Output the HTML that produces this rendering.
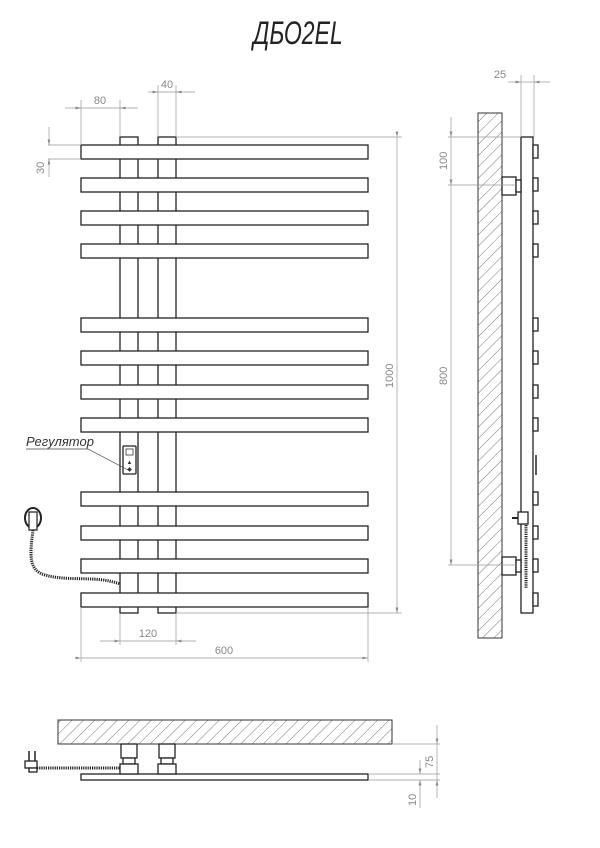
<!DOCTYPE html>
<html><head><meta charset="utf-8"><style>
html,body{margin:0;padding:0;background:#fff;}
svg{display:block;}
.k{fill:#fff;stroke:#222;stroke-width:1.3;}
.d{stroke:#999;stroke-width:0.7;fill:none;}
.t{font-family:"Liberation Sans",sans-serif;fill:#888;font-size:11px;}
</style></head><body>
<svg width="600" height="848" viewBox="0 0 600 848" xmlns="http://www.w3.org/2000/svg">
<defs>
<pattern id="h" width="8" height="8" patternUnits="userSpaceOnUse" patternTransform="rotate(45)">
<line x1="0" y1="0" x2="0" y2="8" stroke="#555" stroke-width="0.8"/></pattern>
<marker id="a" markerWidth="8" markerHeight="4" refX="8" refY="2" orient="auto"><path d="M0,0 L8,2 L0,4z" fill="#888"/></marker>
</defs>
<text x="298" y="44" text-anchor="middle" transform="translate(298 0) scale(0.72 1) translate(-298 0)" font-family="Liberation Sans,sans-serif" font-style="italic" font-size="32" fill="#222" style="transform-box:view-box">ДБО2EL</text>

<!-- front view posts -->
<rect class="k" x="120" y="137" width="18" height="476"/>
<rect class="k" x="158" y="137" width="18" height="476"/>
<line x1="138" y1="137" x2="158" y2="137" stroke="none"/>
<!-- bars -->
<g class="k">
<rect x="81" y="145" width="287" height="14"/><rect x="81" y="178" width="287" height="14"/>
<rect x="81" y="211" width="287" height="14"/><rect x="81" y="244" width="287" height="14"/>
<rect x="81" y="318" width="287" height="14"/><rect x="81" y="351" width="287" height="14"/>
<rect x="81" y="385" width="287" height="14"/><rect x="81" y="418" width="287" height="14"/>
<rect x="81" y="492" width="287" height="14"/><rect x="81" y="526" width="287" height="14"/>
<rect x="81" y="559" width="287" height="14"/><rect x="81" y="593" width="287" height="14"/>
</g>
<!-- regulator -->
<rect class="k" x="123" y="446" width="13" height="28" rx="1"/>
<rect x="126" y="449" width="7" height="6" fill="none" stroke="#333" stroke-width="0.8"/>
<text x="129.5" y="464" font-size="6" text-anchor="middle" fill="#333">▲</text>
<text x="129.5" y="471" font-size="6" text-anchor="middle" fill="#333">◆</text>
<text x="26" y="446" font-family="Liberation Sans,sans-serif" font-style="italic" font-size="13" fill="#333">Регулятор</text>
<polyline points="26,449 88,449 128,470" fill="none" stroke="#444" stroke-width="0.7"/>
<!-- plug and cord -->
<ellipse cx="33" cy="518" rx="8" ry="10" fill="#fff" stroke="#222" stroke-width="2"/>
<path d="M29,512 h8 v18 h-8z" fill="#fff" stroke="#222" stroke-width="1.2"/>
<path d="M33,530 C30,555 28,570 45,575 C70,582 95,575 120,584" fill="none" stroke="#222" stroke-width="3" stroke-dasharray="1.2 1"/>

<!-- front dims -->
<g class="d">
<line x1="81" y1="100" x2="81" y2="145"/><line x1="120" y1="100" x2="120" y2="137"/>
<line x1="65" y1="108" x2="81" y2="108" marker-end="url(#a)"/><line x1="81" y1="108" x2="120" y2="108"/><line x1="138" y1="108" x2="120" y2="108" marker-end="url(#a)"/>
<line x1="158" y1="85" x2="158" y2="137"/><line x1="176" y1="85" x2="176" y2="137"/>
<line x1="148" y1="92" x2="158" y2="92" marker-end="url(#a)"/><line x1="158" y1="92" x2="176" y2="92"/><line x1="195" y1="92" x2="176" y2="92" marker-end="url(#a)"/>
<line x1="48" y1="145" x2="81" y2="145"/><line x1="48" y1="159" x2="81" y2="159"/>
<line x1="49" y1="127" x2="49" y2="145" marker-end="url(#a)"/><line x1="49" y1="177" x2="49" y2="159" marker-end="url(#a)"/>
<line x1="176" y1="137" x2="402" y2="137"/><line x1="176" y1="613" x2="402" y2="613"/>
<line x1="397" y1="137" x2="397" y2="613" marker-start="url(#a)" marker-end="url(#a)"/>
<line x1="81" y1="607" x2="81" y2="662"/><line x1="368" y1="607" x2="368" y2="662"/>
<line x1="81" y1="658" x2="368" y2="658" marker-start="url(#a)" marker-end="url(#a)"/>
<line x1="120" y1="613" x2="120" y2="645"/><line x1="176" y1="613" x2="176" y2="645"/>
<line x1="100" y1="641" x2="120" y2="641" marker-end="url(#a)"/><line x1="120" y1="641" x2="176" y2="641"/><line x1="196" y1="641" x2="176" y2="641" marker-end="url(#a)"/>
</g>
<text class="t" x="100" y="104" text-anchor="middle">80</text>
<text class="t" x="167" y="88" text-anchor="middle">40</text>
<text class="t" transform="translate(44 174) rotate(-90)">30</text>
<text class="t" transform="translate(393 388) rotate(-90)">1000</text>
<text class="t" x="224" y="654" text-anchor="middle">600</text>
<text class="t" x="148" y="637" text-anchor="middle">120</text>

<!-- side view -->
<rect x="478" y="113" width="24" height="525" fill="url(#h)" stroke="#333" stroke-width="1"/>
<rect class="k" x="521" y="137" width="12" height="476"/>
<g class="k">
<rect x="533" y="145" width="5" height="13"/><rect x="533" y="178" width="5" height="13"/>
<rect x="533" y="211" width="5" height="13"/><rect x="533" y="244" width="5" height="13"/>
<rect x="533" y="318" width="5" height="13"/><rect x="533" y="351" width="5" height="13"/>
<rect x="533" y="385" width="5" height="13"/><rect x="533" y="418" width="5" height="13"/>
<rect x="533" y="492" width="5" height="13"/><rect x="533" y="526" width="5" height="13"/>
<rect x="533" y="559" width="5" height="13"/><rect x="533" y="593" width="5" height="13"/>
<rect x="502" y="177" width="14" height="18"/><rect x="516" y="180" width="5" height="12"/>
<rect x="502" y="557" width="14" height="18"/><rect x="516" y="560" width="5" height="12"/>
<rect x="518" y="512" width="10" height="12"/>
</g>
<line x1="512" y1="518" x2="518" y2="518" stroke="#222" stroke-width="2"/>
<line x1="536" y1="455" x2="536" y2="475" stroke="#222" stroke-width="1.5"/>
<line x1="526" y1="525" x2="526" y2="588" stroke="#222" stroke-width="3" stroke-dasharray="1.2 1"/>
<g class="d">
<line x1="521" y1="75" x2="521" y2="137"/><line x1="534" y1="75" x2="534" y2="137"/>
<line x1="508" y1="82" x2="521" y2="82" marker-end="url(#a)"/><line x1="521" y1="82" x2="534" y2="82"/><line x1="550" y1="82" x2="534" y2="82" marker-end="url(#a)"/>
<line x1="448" y1="137" x2="521" y2="137"/><line x1="448" y1="185" x2="516" y2="185"/><line x1="448" y1="565" x2="516" y2="565"/>
<line x1="451" y1="117" x2="451" y2="137" marker-end="url(#a)"/><line x1="451" y1="137" x2="451" y2="185"/>
<line x1="451" y1="185" x2="451" y2="565" marker-start="url(#a)" marker-end="url(#a)"/>
</g>
<text class="t" x="500" y="78" text-anchor="middle">25</text>
<text class="t" transform="translate(447 170) rotate(-90)">100</text>
<text class="t" transform="translate(447 385) rotate(-90)">800</text>

<!-- bottom view -->
<rect x="58" y="720" width="334" height="24" fill="url(#h)" stroke="#333" stroke-width="1"/>
<rect class="k" x="81" y="774" width="287" height="6"/>
<g class="k">
<rect x="121" y="744" width="16" height="14"/><rect x="123" y="758" width="12" height="6"/><rect x="120" y="764" width="18" height="10"/>
<rect x="159" y="744" width="16" height="14"/><rect x="161" y="758" width="12" height="6"/><rect x="158" y="764" width="18" height="10"/>
<rect x="25" y="761" width="12" height="7"/><rect x="29" y="768" width="8" height="4"/>
</g>
<line x1="29" y1="751" x2="29" y2="761" stroke="#222" stroke-width="1.5"/>
<line x1="35" y1="751" x2="35" y2="761" stroke="#222" stroke-width="1.5"/>
<line x1="37" y1="768" x2="120" y2="768" stroke="#222" stroke-width="3" stroke-dasharray="1.2 1"/>
<g class="d">
<line x1="392" y1="744" x2="440" y2="744"/><line x1="368" y1="774" x2="440" y2="774"/><line x1="368" y1="780" x2="440" y2="780"/>
<line x1="437" y1="725" x2="437" y2="744" marker-end="url(#a)"/><line x1="437" y1="744" x2="437" y2="780"/><line x1="437" y1="798" x2="437" y2="780" marker-end="url(#a)"/>
<line x1="420" y1="760" x2="420" y2="774" marker-end="url(#a)"/><line x1="420" y1="808" x2="420" y2="780" marker-end="url(#a)"/>
</g>
<text class="t" transform="translate(433 768) rotate(-90)">75</text>
<text class="t" transform="translate(416 806) rotate(-90)">10</text>
</svg>
</body></html>
